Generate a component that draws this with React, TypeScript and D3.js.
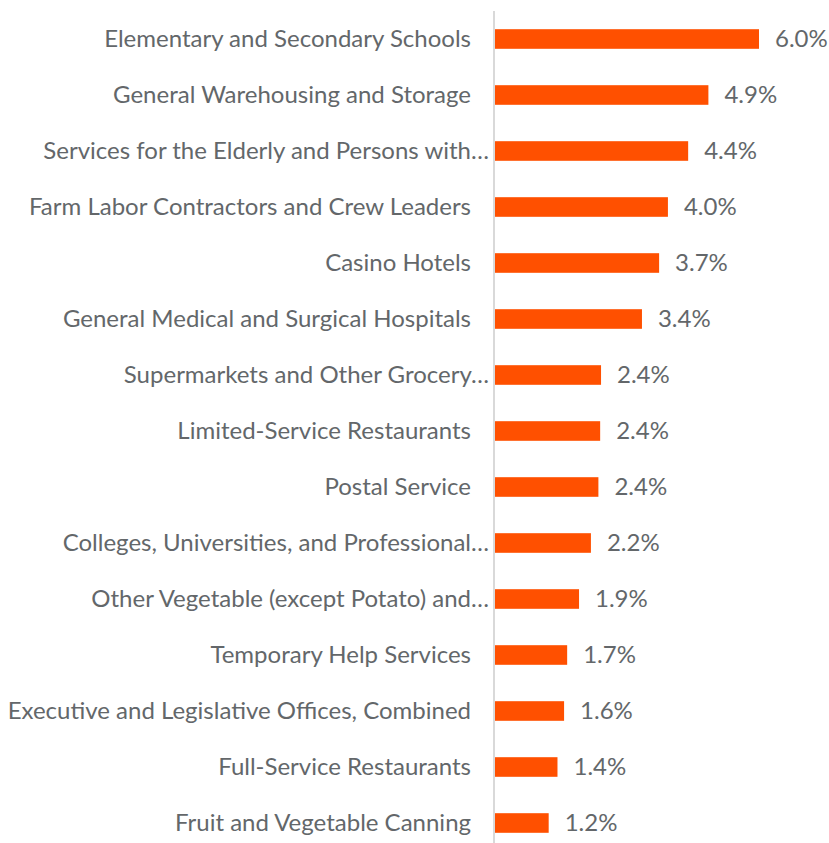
import React from "react";
import * as d3 from "d3";

const categories = [
  "Elementary and Secondary Schools",
  "General Warehousing and Storage",
  "Services for the Elderly and Persons with…",
  "Farm Labor Contractors and Crew Leaders",
  "Casino Hotels",
  "General Medical and Surgical Hospitals",
  "Supermarkets and Other Grocery…",
  "Limited-Service Restaurants",
  "Postal Service",
  "Colleges, Universities, and Professional…",
  "Other Vegetable (except Potato) and…",
  "Temporary Help Services",
  "Executive and Legislative Offices, Combined",
  "Full-Service Restaurants",
  "Fruit and Vegetable Canning",
];

const values = [6.0, 4.85, 4.39, 3.93, 3.73, 3.34, 2.41, 2.39, 2.35, 2.18, 1.91, 1.64, 1.57, 1.42, 1.22];
const valueLabels = ["6.0%", "4.9%", "4.4%", "4.0%", "3.7%", "3.4%", "2.4%", "2.4%", "2.4%", "2.2%", "1.9%", "1.7%", "1.6%", "1.4%", "1.2%"];

const W = 829;
const H = 843;
const axisX = 494;
const TEXT = "#63676a";
const BAR = "#FF5000";
const FONT = "Lato, 'Open Sans', sans-serif";
const FS = 24;

export default function App() {
  const x = d3.scaleLinear().domain([0, 6]).range([axisX + 1, axisX + 1 + 264]);
  const y = d3
    .scaleBand<string>()
    .domain(categories)
    .range([11, 851])
    .paddingInner(0.65)
    .paddingOuter(0.325);
  return (
    <svg
      width={W}
      height={H}
      style={{ position: "absolute", left: 0, top: 0, background: "#fff" }}
      fontFamily={FONT}
    >
      <line x1={axisX} x2={axisX} y1={11} y2={H} stroke="#d9d9d9" strokeWidth={2} />
      {categories.map((c, i) => {
        const yc = (y(c) ?? 0) + y.bandwidth() / 2;
        const truncated = c.endsWith("…");
        return (
          <g key={c}>
            <rect x={x(0)} y={y(c)} width={x(values[i]) - x(0)} height={y.bandwidth()} fill={BAR} />
            <text
              x={truncated ? 489 : 471}
              y={yc}
              dy="0.35em"
              textAnchor="end"
              fontSize={FS}
              fill={TEXT}
            >
              {c}
            </text>
            <text x={x(values[i]) + 16} y={yc} dy="0.35em" fontSize={FS} fill={TEXT}>
              {valueLabels[i]}
            </text>
          </g>
        );
      })}
    </svg>
  );
}
